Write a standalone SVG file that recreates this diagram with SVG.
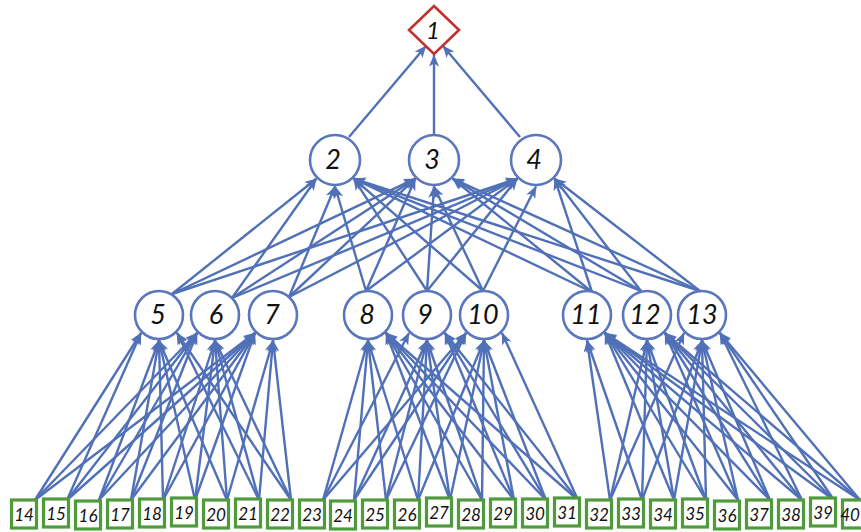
<svg xmlns="http://www.w3.org/2000/svg" width="861" height="532" viewBox="0 0 861 532">
<style>
.e{stroke:#5070b7;stroke-width:2.4;fill:none;marker-end:url(#ah)}
.c{fill:#fff;stroke:#5a77bd;stroke-width:2.6}
.lf{fill:#fff;stroke:#4f9b3b;stroke-width:3.2}
.dm{fill:#fff;stroke:#c3302d;stroke-width:2.6}
.lab{font-family:Lato,"Open Sans",sans-serif;font-style:italic;fill:#111;text-anchor:middle}
.big{font-size:27px}
.sm{font-size:17px}
</style>
<defs>
<marker id="ah" markerUnits="userSpaceOnUse" markerWidth="13" markerHeight="11" refX="11.5" refY="5" orient="auto" overflow="visible"><path d="M0,0 L12,5 L0,10 L3,5 z" fill="#5070b7"/></marker>
</defs>
<g id="connectors">
<line class="e" x1="349" y1="137" x2="426" y2="46"/>
<line class="e" x1="434" y1="135" x2="434" y2="55"/>
<line class="e" x1="520" y1="137" x2="443" y2="46"/>
<!-- level 3 to level 2 -->
<line class="e" x1="172" y1="294" x2="316.3" y2="178.7"/><line class="e" x1="172" y1="294" x2="415.3" y2="178.7"/><line class="e" x1="172" y1="294" x2="517.3" y2="178.7"/>
<line class="e" x1="232" y1="298" x2="316.3" y2="178.7"/><line class="e" x1="232" y1="298" x2="415.3" y2="178.7"/><line class="e" x1="232" y1="298" x2="517.3" y2="178.7"/>
<line class="e" x1="289" y1="297" x2="335" y2="186.5"/><line class="e" x1="289" y1="297" x2="415.3" y2="178.7"/><line class="e" x1="289" y1="297" x2="517.3" y2="178.7"/>
<line class="e" x1="366" y1="291" x2="335" y2="186.5"/><line class="e" x1="366" y1="291" x2="415.3" y2="178.7"/><line class="e" x1="366" y1="291" x2="517.3" y2="178.7"/>
<line class="e" x1="427" y1="291" x2="353.7" y2="178.7"/><line class="e" x1="427" y1="291" x2="434" y2="186.5"/><line class="e" x1="427" y1="291" x2="517.3" y2="178.7"/>
<line class="e" x1="483" y1="291" x2="353.7" y2="178.7"/><line class="e" x1="483" y1="291" x2="434" y2="186.5"/><line class="e" x1="483" y1="291" x2="536" y2="186.5"/>
<line class="e" x1="592" y1="292" x2="353.7" y2="178.7"/><line class="e" x1="592" y1="292" x2="452.7" y2="178.7"/><line class="e" x1="592" y1="292" x2="554.7" y2="178.7"/>
<line class="e" x1="641" y1="291" x2="353.7" y2="178.7"/><line class="e" x1="641" y1="291" x2="452.7" y2="178.7"/><line class="e" x1="641" y1="291" x2="554.7" y2="178.7"/>
<line class="e" x1="700" y1="291" x2="353.7" y2="178.7"/><line class="e" x1="700" y1="291" x2="452.7" y2="178.7"/><line class="e" x1="700" y1="291" x2="554.7" y2="178.7"/>
<!-- group 1 leaves -->
<line class="e" x1="35" y1="500" x2="141" y2="333"/><line class="e" x1="35" y1="500" x2="197" y2="333"/><line class="e" x1="35" y1="500" x2="255" y2="333"/>
<line class="e" x1="67" y1="500" x2="141" y2="333"/><line class="e" x1="67" y1="500" x2="197" y2="333"/><line class="e" x1="67" y1="500" x2="255" y2="333"/>
<line class="e" x1="99" y1="500" x2="159" y2="340.5"/><line class="e" x1="99" y1="500" x2="197" y2="333"/><line class="e" x1="99" y1="500" x2="255" y2="333"/>
<line class="e" x1="131" y1="500" x2="159" y2="340.5"/><line class="e" x1="131" y1="500" x2="197" y2="333"/><line class="e" x1="131" y1="500" x2="255" y2="333"/>
<line class="e" x1="163" y1="500" x2="159" y2="340.5"/><line class="e" x1="163" y1="500" x2="215" y2="340.5"/><line class="e" x1="163" y1="500" x2="255" y2="333"/>
<line class="e" x1="195" y1="500" x2="159" y2="340.5"/><line class="e" x1="195" y1="500" x2="215" y2="340.5"/><line class="e" x1="195" y1="500" x2="255" y2="333"/>
<line class="e" x1="227" y1="500" x2="159" y2="340.5"/><line class="e" x1="227" y1="500" x2="215" y2="340.5"/><line class="e" x1="227" y1="500" x2="273" y2="340.5"/>
<line class="e" x1="259" y1="500" x2="177" y2="333"/><line class="e" x1="259" y1="500" x2="215" y2="340.5"/><line class="e" x1="259" y1="500" x2="273" y2="340.5"/>
<line class="e" x1="291" y1="500" x2="177" y2="333"/><line class="e" x1="291" y1="500" x2="215" y2="340.5"/><line class="e" x1="291" y1="500" x2="273" y2="340.5"/>
<!-- group 2 leaves -->
<line class="e" x1="323" y1="500" x2="368" y2="340.5"/><line class="e" x1="323" y1="500" x2="409" y2="333"/><line class="e" x1="323" y1="500" x2="466" y2="333"/>
<line class="e" x1="354" y1="500" x2="368" y2="340.5"/><line class="e" x1="354" y1="500" x2="427" y2="340.5"/><line class="e" x1="354" y1="500" x2="466" y2="333"/>
<line class="e" x1="386" y1="500" x2="368" y2="340.5"/><line class="e" x1="386" y1="500" x2="427" y2="340.5"/><line class="e" x1="386" y1="500" x2="466" y2="333"/>
<line class="e" x1="418" y1="500" x2="368" y2="340.5"/><line class="e" x1="418" y1="500" x2="427" y2="340.5"/><line class="e" x1="418" y1="500" x2="484" y2="340.5"/>
<line class="e" x1="450" y1="500" x2="386" y2="333"/><line class="e" x1="450" y1="500" x2="427" y2="340.5"/><line class="e" x1="450" y1="500" x2="484" y2="340.5"/>
<line class="e" x1="482" y1="500" x2="386" y2="333"/><line class="e" x1="482" y1="500" x2="427" y2="340.5"/><line class="e" x1="482" y1="500" x2="484" y2="340.5"/>
<line class="e" x1="514" y1="500" x2="386" y2="333"/><line class="e" x1="514" y1="500" x2="445" y2="333"/><line class="e" x1="514" y1="500" x2="484" y2="340.5"/>
<line class="e" x1="546" y1="500" x2="386" y2="333"/><line class="e" x1="546" y1="500" x2="445" y2="333"/><line class="e" x1="546" y1="500" x2="484" y2="340.5"/>
<line class="e" x1="578" y1="500" x2="386" y2="333"/><line class="e" x1="578" y1="500" x2="445" y2="333"/><line class="e" x1="578" y1="500" x2="502" y2="333"/>
<!-- group 3 leaves -->
<line class="e" x1="610" y1="500" x2="587" y2="340.5"/><line class="e" x1="610" y1="500" x2="647" y2="340.5"/><line class="e" x1="610" y1="500" x2="684" y2="333"/>
<line class="e" x1="642" y1="500" x2="587" y2="340.5"/><line class="e" x1="642" y1="500" x2="647" y2="340.5"/><line class="e" x1="642" y1="500" x2="702" y2="340.5"/>
<line class="e" x1="674" y1="500" x2="605" y2="333"/><line class="e" x1="674" y1="500" x2="647" y2="340.5"/><line class="e" x1="674" y1="500" x2="702" y2="340.5"/>
<line class="e" x1="706" y1="500" x2="605" y2="333"/><line class="e" x1="706" y1="500" x2="647" y2="340.5"/><line class="e" x1="706" y1="500" x2="702" y2="340.5"/>
<line class="e" x1="738" y1="500" x2="605" y2="333"/><line class="e" x1="738" y1="500" x2="665" y2="333"/><line class="e" x1="738" y1="500" x2="702" y2="340.5"/>
<line class="e" x1="770" y1="500" x2="605" y2="333"/><line class="e" x1="770" y1="500" x2="665" y2="333"/><line class="e" x1="770" y1="500" x2="702" y2="340.5"/>
<line class="e" x1="802" y1="500" x2="605" y2="333"/><line class="e" x1="802" y1="500" x2="665" y2="333"/><line class="e" x1="802" y1="500" x2="720" y2="333"/>
<line class="e" x1="834" y1="500" x2="605" y2="333"/><line class="e" x1="834" y1="500" x2="665" y2="333"/><line class="e" x1="834" y1="500" x2="720" y2="333"/>
<line class="e" x1="860" y1="500" x2="605" y2="333"/><line class="e" x1="860" y1="500" x2="665" y2="333"/><line class="e" x1="860" y1="500" x2="720" y2="333"/>
</g>
<g id="n1"><polygon class="dm" points="434,6 459,30 434,54 409,30"/><text class="lab" x="433" y="39" font-size="24">1</text></g>
<g id="n2"><circle class="c" cx="335" cy="160" r="25"/><text class="lab big" x="333" y="169">2</text></g>
<g id="n3"><circle class="c" cx="434" cy="160" r="25"/><text class="lab big" x="432" y="169">3</text></g>
<g id="n4"><circle class="c" cx="536" cy="160" r="25"/><text class="lab big" x="534" y="169">4</text></g>
<g id="n5"><circle class="c" cx="159" cy="315" r="24"/><text class="lab big" x="158" y="324">5</text></g>
<g id="n6"><circle class="c" cx="215" cy="315" r="24"/><text class="lab big" x="216" y="324">6</text></g>
<g id="n7"><circle class="c" cx="273" cy="315" r="24"/><text class="lab big" x="272" y="324">7</text></g>
<g id="n8"><circle class="c" cx="368" cy="315" r="24"/><text class="lab big" x="367" y="324">8</text></g>
<g id="n9"><circle class="c" cx="427" cy="315" r="24"/><text class="lab big" x="425" y="324">9</text></g>
<g id="n10"><circle class="c" cx="484" cy="315" r="24"/><text class="lab big" x="483" y="324">10</text></g>
<g id="n11"><circle class="c" cx="587" cy="315" r="24"/><text class="lab big" x="586" y="324">11</text></g>
<g id="n12"><circle class="c" cx="647" cy="315" r="24"/><text class="lab big" x="645" y="324">12</text></g>
<g id="n13"><circle class="c" cx="702" cy="315" r="24"/><text class="lab big" x="702" y="324">13</text></g>
<g id="n14"><rect class="lf" x="11.5" y="500" width="25" height="28"/><text class="lab sm" x="24" y="521">14</text></g>
<g id="n15"><rect class="lf" x="43.5" y="499" width="25" height="28"/><text class="lab sm" x="56" y="520">15</text></g>
<g id="n16"><rect class="lf" x="75.5" y="501" width="25" height="28"/><text class="lab sm" x="88" y="522">16</text></g>
<g id="n17"><rect class="lf" x="107.5" y="500" width="25" height="28"/><text class="lab sm" x="120" y="521">17</text></g>
<g id="n18"><rect class="lf" x="139.5" y="499" width="25" height="28"/><text class="lab sm" x="152" y="520">18</text></g>
<g id="n19"><rect class="lf" x="171.5" y="498" width="25" height="28"/><text class="lab sm" x="184" y="519">19</text></g>
<g id="n20"><rect class="lf" x="203.5" y="500" width="25" height="28"/><text class="lab sm" x="216" y="521">20</text></g>
<g id="n21"><rect class="lf" x="235.5" y="499" width="25" height="28"/><text class="lab sm" x="248" y="520">21</text></g>
<g id="n22"><rect class="lf" x="267.5" y="500" width="25" height="28"/><text class="lab sm" x="280" y="521">22</text></g>
<g id="n23"><rect class="lf" x="299.5" y="500" width="25" height="28"/><text class="lab sm" x="312" y="521">23</text></g>
<g id="n24"><rect class="lf" x="330.5" y="501" width="25" height="28"/><text class="lab sm" x="343" y="522">24</text></g>
<g id="n25"><rect class="lf" x="362.5" y="500" width="25" height="28"/><text class="lab sm" x="375" y="521">25</text></g>
<g id="n26"><rect class="lf" x="394.5" y="500" width="25" height="28"/><text class="lab sm" x="407" y="521">26</text></g>
<g id="n27"><rect class="lf" x="426.5" y="498" width="25" height="28"/><text class="lab sm" x="439" y="519">27</text></g>
<g id="n28"><rect class="lf" x="458.5" y="500" width="25" height="28"/><text class="lab sm" x="471" y="521">28</text></g>
<g id="n29"><rect class="lf" x="490.5" y="499" width="25" height="28"/><text class="lab sm" x="503" y="520">29</text></g>
<g id="n30"><rect class="lf" x="522.5" y="499" width="25" height="28"/><text class="lab sm" x="535" y="520">30</text></g>
<g id="n31"><rect class="lf" x="554.5" y="498" width="25" height="28"/><text class="lab sm" x="567" y="519">31</text></g>
<g id="n32"><rect class="lf" x="586.5" y="500" width="25" height="28"/><text class="lab sm" x="599" y="521">32</text></g>
<g id="n33"><rect class="lf" x="618.5" y="499" width="25" height="28"/><text class="lab sm" x="631" y="520">33</text></g>
<g id="n34"><rect class="lf" x="650.5" y="500" width="25" height="28"/><text class="lab sm" x="663" y="521">34</text></g>
<g id="n35"><rect class="lf" x="682.5" y="499" width="25" height="28"/><text class="lab sm" x="695" y="520">35</text></g>
<g id="n36"><rect class="lf" x="714.5" y="501" width="25" height="28"/><text class="lab sm" x="727" y="522">36</text></g>
<g id="n37"><rect class="lf" x="746.5" y="500" width="25" height="28"/><text class="lab sm" x="759" y="521">37</text></g>
<g id="n38"><rect class="lf" x="778.5" y="500" width="25" height="28"/><text class="lab sm" x="791" y="521">38</text></g>
<g id="n39"><rect class="lf" x="810.5" y="498" width="25" height="28"/><text class="lab sm" x="823" y="519">39</text></g>
<g id="n40"><rect class="lf" x="842.5" y="500" width="25" height="28"/><text class="lab sm" x="850" y="521">40</text></g>
</svg>
